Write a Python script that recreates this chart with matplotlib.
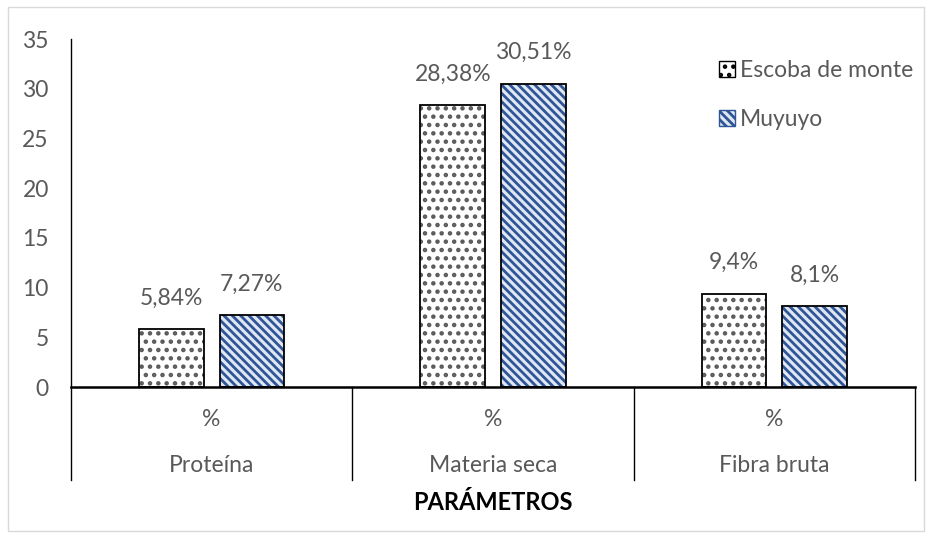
import matplotlib
matplotlib.use("Agg")
import matplotlib.pyplot as plt
import matplotlib.patches as mpatches
import numpy as np

plt.rcParams['font.family'] = ['Lato', 'DejaVu Sans']
plt.rcParams['hatch.linewidth'] = 2.0

categories = ["Proteína", "Materia seca", "Fibra bruta"]
sub_labels = ["%", "%", "%"]
series_names = ["Escoba de monte", "Muyuyo"]
escoba = [5.84, 28.38, 9.4]
muyuyo = [7.27, 30.51, 8.1]
escoba_lbl = ["5,84%", "28,38%", "9,4%"]
muyuyo_lbl = ["7,27%", "30,51%", "8,1%"]
yticks = [0, 5, 10, 15, 20, 25, 30, 35]
xlabel = "PARÁMETROS"

W, H = 931, 537
fig = plt.figure(figsize=(W / 100, H / 100), dpi=100)
ax = fig.add_axes([71 / W, 1 - 387 / H, (915 - 71) / W, (387 - 39) / H])

x = np.arange(len(categories))
bw = 0.23
off = 0.143
txtc = '#595959'
fs = 16.5

ax.bar(x - off, escoba, bw, color='white', edgecolor='#5a5a5a', hatch='..', linewidth=0, zorder=2)
ax.bar(x - off, escoba, bw, fill=False, edgecolor='black', linewidth=1.3, zorder=3)
ax.bar(x + off, muyuyo, bw, color='#dfe7f3', edgecolor='#2F5597', hatch='\\\\\\\\', linewidth=0, zorder=2)
ax.bar(x + off, muyuyo, bw, fill=False, edgecolor='black', linewidth=1.3, zorder=3)

for xi, v, s in zip(x - off, escoba, escoba_lbl):
    ax.text(xi, v + 3.1, s, ha='center', va='center', fontsize=fs, color=txtc)
for xi, v, s in zip(x + off, muyuyo, muyuyo_lbl):
    ax.text(xi, v + 3.1, s, ha='center', va='center', fontsize=fs, color=txtc)

ax.set_xlim(-0.5, 2.5)
ax.set_ylim(0, 35)
ax.set_yticks(yticks)
ax.set_yticklabels([str(t) for t in yticks], fontsize=fs, color=txtc)
ax.tick_params(axis='y', length=0, pad=16)
ax.set_xticks([])
for sp in ['top', 'right']:
    ax.spines[sp].set_visible(False)
ax.spines['left'].set_color('black')
ax.spines['left'].set_linewidth(1.0)
ax.spines['bottom'].set_color('black')
ax.spines['bottom'].set_linewidth(1.8)

trans = ax.get_xaxis_transform()
for b in [-0.5, 0.5, 1.5, 2.5]:
    ax.plot([b, b], [0, -93 / 348], color='black', lw=1.0, transform=trans, clip_on=False)
for xi, s, c in zip(x, sub_labels, categories):
    ax.text(xi, -33 / 348, s, transform=trans, ha='center', va='center', fontsize=fs, color=txtc)
    ax.text(xi, -78 / 348, c, transform=trans, ha='center', va='center', fontsize=fs, color=txtc)

fig.text(493 / W, 1 - 502 / H, xlabel, ha='center', va='center', fontsize=17, fontweight='bold', color='black')

h1 = mpatches.Patch(facecolor='white', edgecolor='black', hatch='..', label=series_names[0])
h2 = mpatches.Patch(facecolor='#dfe7f3', edgecolor='#2F5597', hatch='\\\\\\\\', label=series_names[1])
leg = fig.legend(handles=[h1, h2], loc='upper left', bbox_to_anchor=(703 / W, 1 - 44 / H),
                 frameon=False, fontsize=fs, handlelength=0.7, handleheight=0.7,
                 handletextpad=0.2, labelspacing=1.2, labelcolor=txtc, borderpad=0.2)

border = mpatches.Rectangle((8 / W, 6 / H), (924 - 8) / W, (530 - 6) / H, transform=fig.transFigure,
                            fill=False, edgecolor='#d9d9d9', lw=1.0)
fig.patches.append(border)

fig.savefig("out.png", dpi=100)
